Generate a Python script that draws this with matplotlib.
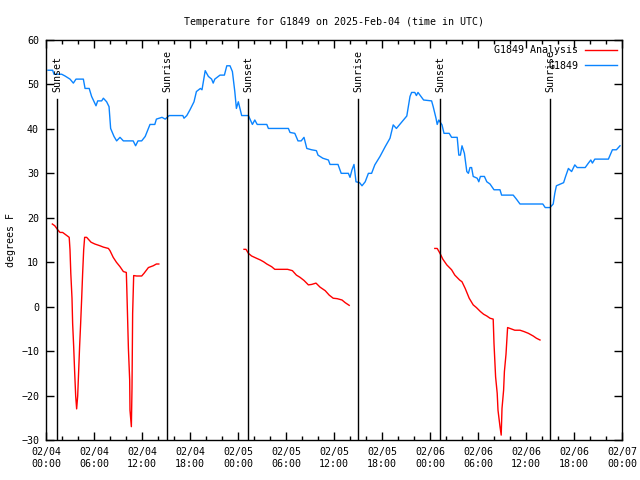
import matplotlib
matplotlib.use("Agg")
import matplotlib.pyplot as plt
import numpy as np

# hours since 2025-02-04 00:00 UTC
obs_h = [0.25, 0.83, 1.0, 1.96, 2.38, 3.0, 3.42, 3.75, 4.67, 4.88, 5.4, 5.7, 6.25, 6.46, 6.96,
         7.17, 7.58, 7.88, 8.08, 8.5, 8.83, 9.25, 9.67, 10.9, 11.2, 11.5, 11.96, 12.4, 12.8, 13.0,
         13.6, 13.8, 14.5, 14.9, 15.4, 17.1, 17.25, 17.6, 18.0, 18.5, 18.8, 19.3, 19.5, 19.9,
         20.3, 20.7, 20.9, 21.1, 21.75, 22.3, 22.6, 23.0, 23.3, 23.6, 23.8, 24.04, 24.25, 24.46,
         25.3, 25.5, 25.8, 26.1, 26.4, 27.6, 27.8, 30.3, 30.5, 31.1, 31.5, 31.9, 32.25, 32.6,
         33.2, 33.8, 34.0, 34.6, 35.3, 35.5, 36.5, 36.9, 37.8, 38.0, 38.25, 38.5, 38.75, 39.2,
         39.5, 39.9, 40.3, 40.7, 41.1, 41.75, 42.4, 43.0, 43.4, 43.8, 44.5, 45.1, 45.5, 45.7,
         46.1, 46.3, 46.5, 47.2, 48.2, 48.4, 48.75, 48.9, 49.1, 49.5, 49.75, 50.4, 50.7, 51.4,
         51.6, 51.8, 52.0, 52.3, 52.6, 52.8, 53.0, 53.2, 53.4, 53.9, 54.1, 54.3, 54.8, 55.1,
         55.5, 56.0, 56.75, 56.95, 58.4, 58.8, 59.25, 62.1, 62.4, 63.0, 63.4, 63.6, 63.8, 64.7,
         64.95, 65.3, 65.7, 66.1, 66.4, 67.4, 67.8, 68.1, 68.3, 68.6, 70.3, 70.8, 71.3, 71.75]
obs_t = [53.2, 53.2, 52.3, 52.3, 51.9, 51.2, 50.3, 51.2, 51.2, 49.1, 49.1, 47.3, 45.2, 46.3, 46.3,
         46.9, 46.1, 45.0, 40.1, 38.3, 37.3, 38.1, 37.3, 37.3, 36.2, 37.3, 37.3, 38.3, 40.1, 41.0,
         41.0, 42.2, 42.6, 42.2, 43.0, 43.0, 42.4, 43.0, 44.3, 46.1, 48.4, 49.1, 48.8, 53.1,
         51.8, 51.2, 50.3, 51.2, 52.1, 52.1, 54.2, 54.2, 52.9, 48.4, 44.6, 46.1, 44.6, 43.0,
         43.0, 42.2, 41.0, 42.0, 41.0, 41.0, 40.1, 40.1, 39.2, 39.0, 37.3, 37.3, 38.1, 35.6,
         35.3, 35.1, 34.1, 33.4, 33.0, 32.0, 32.0, 30.0, 30.0, 29.1, 30.8, 32.0, 28.1, 27.9,
         27.2, 28.1, 30.0, 30.0, 31.9, 33.8, 36.0, 37.9, 40.9, 40.1, 41.6, 42.9, 47.3, 48.2,
         48.2, 47.5, 48.2, 46.5, 46.3, 45.0, 42.4, 41.0, 42.0, 40.9, 39.0, 39.0, 38.1, 38.1,
         34.1, 34.1, 36.2, 34.5, 30.4, 30.0, 31.3, 31.3, 29.3, 28.9, 28.1, 29.3, 29.3, 28.1,
         27.6, 26.3, 26.3, 25.1, 25.1, 24.2, 23.1, 23.1, 22.3, 22.3, 23.1, 25.5, 27.2, 27.9,
         29.3, 31.1, 30.4, 31.9, 31.3, 31.3, 32.3, 33.0, 32.3, 33.2, 33.2, 35.3, 35.3, 36.2]

ana1_h = [0.79, 1.1, 1.42, 1.75, 2.08, 2.38, 2.9, 3.0, 3.1, 3.25, 3.33, 3.46, 3.58, 3.71, 3.83,
          3.96, 4.08, 4.2, 4.33, 4.46, 4.58, 4.71, 4.83, 5.08, 5.63, 6.1, 6.75, 7.17, 7.8, 8.0,
          8.4, 8.8, 9.25, 9.67, 10.04, 10.1, 10.2, 10.3, 10.46, 10.5, 10.67, 10.75, 10.83, 10.96,
          11.33, 11.96, 12.25, 12.8, 13.1, 13.4, 13.8, 14.1]
ana1_t = [18.6, 18.2, 17.4, 16.7, 16.7, 16.3, 15.6, 12.8, 7.5, 1.9, -3.8, -9.0, -14.6, -20.1, -23.0,
          -20.1, -14.6, -9.0, -3.8, 1.9, 7.5, 12.8, 15.6, 15.6, 14.5, 14.1, 13.7, 13.4, 13.1, 12.6,
          11.1, 10.0, 9.0, 7.9, 7.7, 4.1, -2.6, -9.4, -16.5, -23.3, -27.0, -18.4, -1.5, 7.0,
          6.9, 6.9, 7.5, 8.8, 9.0, 9.2, 9.6, 9.6]

ana2_h = [24.75, 25.0, 25.3, 25.7, 26.3, 26.8, 27.2, 27.6, 28.2, 28.6, 30.2, 30.8, 31.3, 31.75,
          32.25, 32.8, 33.2, 33.75, 34.25, 34.9, 35.4, 35.9, 36.4, 37.0, 37.4, 37.9]
ana2_t = [12.9, 12.9, 12.0, 11.4, 10.9, 10.5, 10.1, 9.6, 9.0, 8.4, 8.4, 8.1, 7.1, 6.6,
          5.9, 4.9, 5.0, 5.3, 4.4, 3.6, 2.6, 1.9, 1.8, 1.5, 0.9, 0.3]

ana3_h = [48.6, 48.9, 49.25, 49.6, 50.1, 50.7, 51.1, 51.7, 52.0, 52.4, 52.9, 53.4, 53.8, 54.3,
          54.7, 55.1, 55.5, 55.9, 56.0, 56.2, 56.4, 56.5, 56.75, 56.9, 57.0, 57.2, 57.3, 57.5,
          57.7, 58.0, 58.6, 59.25, 59.75, 60.3, 60.9, 61.3, 61.75]
ana3_t = [13.1, 13.1, 12.0, 10.7, 9.4, 8.3, 7.1, 6.0, 5.6, 4.1, 1.9, 0.4, -0.2, -1.1,
          -1.7, -2.1, -2.6, -2.8, -8.3, -15.8, -19.5, -23.3, -27.0, -28.9, -22.9, -18.8, -14.6, -10.7,
          -4.7, -4.9, -5.3, -5.3, -5.6, -6.0, -6.6, -7.1, -7.5]

sun_h = [1.375, 15.1, 25.25, 39.0, 49.25, 63.0]
sun_lbl = ["Sunset", "Sunrise", "Sunset", "Sunrise", "Sunset", "Sunrise"]

tick_h = list(range(0, 73, 6))
tick_lbl = ["02/04\n00:00", "02/04\n06:00", "02/04\n12:00", "02/04\n18:00",
            "02/05\n00:00", "02/05\n06:00", "02/05\n12:00", "02/05\n18:00",
            "02/06\n00:00", "02/06\n06:00", "02/06\n12:00", "02/06\n18:00", "02/07\n00:00"]

plt.rcParams['font.family'] = 'DejaVu Sans Mono'
plt.rcParams['font.size'] = 7.2

fig = plt.figure(figsize=(6.4, 4.8), dpi=100)
ax = fig.add_axes([46/640, 40/480, 576/640, 400/480])

red = '#ff0000'
blue = '#0a84ff'
ax.plot(ana1_h, ana1_t, color=red, lw=1, label='G1849 Analysis')
ax.plot(ana2_h, ana2_t, color=red, lw=1)
ax.plot(ana3_h, ana3_t, color=red, lw=1)
ax.plot(obs_h, obs_t, color=blue, lw=1, label='G1849')

for h, lbl in zip(sun_h, sun_lbl):
    ax.plot([h, h], [-30, 46.7], color='black', lw=1)
    ax.text(h + 0.1, 48.2, lbl, rotation=90, ha='center', va='bottom')

ax.set_xlim(0, 72)
ax.set_ylim(-30, 60)
ax.set_xticks(tick_h)
ax.set_xticklabels(tick_lbl)
ax.set_xticks(np.arange(0, 73, 2), minor=True)
ax.set_yticks(np.arange(-30, 61, 10))
ax.tick_params(which='both', direction='in', top=True, right=True, width=1)
ax.tick_params(which='major', length=6, pad=5)
ax.tick_params(which='minor', length=3)
for s in ax.spines.values():
    s.set_linewidth(1)

ax.set_ylabel('degrees F', labelpad=4)
ax.set_title('Temperature for G1849 on 2025-Feb-04 (time in UTC)', pad=11, fontsize=7.2)
ax.legend(loc='upper right', frameon=False, markerfirst=False, handlelength=3.2,
          borderaxespad=0.15, labelspacing=0.55, handletextpad=0.6)

fig.savefig('out.png', dpi=100)
